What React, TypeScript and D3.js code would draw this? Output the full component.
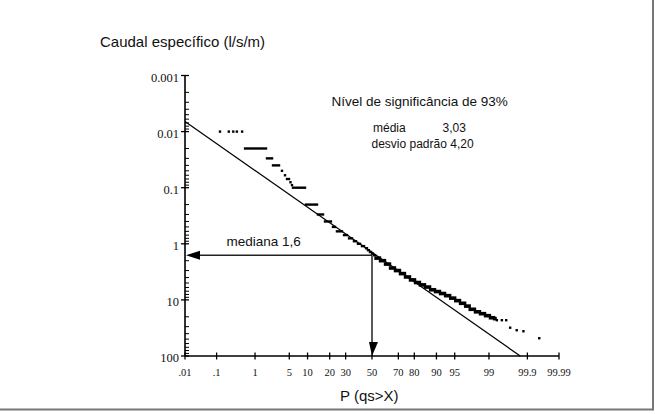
import * as d3 from "d3";

// probability ticks (%), and y decades
const probTicks = [0.01, 0.1, 1, 5, 10, 20, 30, 50, 70, 80, 90, 95, 99, 99.9, 99.99];
const probLabels = [".01", ".1", "1", "5", "10", "20", "30", "50", "70", "80", "90", "95", "99", "99.9", "99.99"];
const yDecades = [0.001, 0.01, 0.1, 1, 10, 100];
const yLabels = ["0.001", "0.01", "0.1", "1", "10", "100"];

// observed values: [caudal, P from (%), P to (%)] (tied values form runs)
const runs: [number, number, number][] = [
  [0.01, 0.125, 0.125], [0.01, 0.22, 0.22], [0.01, 0.29, 0.29], [0.01, 0.36, 0.36], [0.01, 0.49, 0.49],
  [0.02, 0.58, 1.75], [0.03, 1.84, 2.34], [0.04, 2.45, 3.22], [0.05, 3.67, 3.67], [0.06, 4.18, 4.18],
  [0.07, 4.55, 4.94], [0.08, 5.25, 5.25], [0.09, 5.58, 5.58],
  [0.1, 5.81, 9.13], [0.2, 9.46, 13.7], [0.3, 14.1, 16.5], [0.4, 17.5, 20.7], [0.5, 21.9, 23.1],
  [0.6, 24.3, 27.5], [0.7, 28.9, 30.9], [0.8, 32.4, 34.5], [0.9, 36.0, 37.5], [1.0, 39.0, 40.6],
  [1.1, 42.1, 43.7], [1.2, 45.3, 46.0], [1.3, 46.8, 47.5], [1.4, 48.4, 49.2], [1.5, 50.0, 50.8],
  [1.6, 51.6, 52.4], [1.8, 52.8, 56.3], [2.0, 56.3, 60.2], [2.3, 60.2, 64.0], [2.7, 64.0, 67.6],
  [3.0, 67.6, 71.1], [3.4, 71.1, 74.4], [3.9, 74.4, 77.5], [4.4, 77.5, 80.4], [4.9, 80.4, 83.0],
  [5.4, 83.0, 85.4], [5.9, 85.4, 87.6], [6.6, 87.6, 89.5], [7.1, 89.5, 91.2], [7.7, 91.2, 92.7],
  [8.4, 92.7, 94.0], [9.3, 94.0, 95.1], [10.3, 95.1, 96.0], [11.5, 96.0, 96.8], [12.9, 96.8, 97.4],
  [14.7, 97.4, 97.97], [16.3, 97.97, 98.41], [17.6, 98.41, 98.77], [19.1, 98.77, 99.05],
  [20.8, 99.05, 99.24], [21.6, 99.24, 99.3],
  [23, 99.35, 99.35], [23, 99.51, 99.51], [23, 99.62, 99.62],
  [31.3, 99.7, 99.7], [34.7, 99.8, 99.8], [36.2, 99.87, 99.87], [48.2, 99.956, 99.956],
];

// fitted distribution (straight on probability paper)
const fitLine: [number, number][] = [[0.01, 0.0066], [99.84, 100]];

const median = 1.6;
const medianP = 50;

// inverse normal cdf (Acklam)
function probit(p: number): number {
  const a = [-39.69683028665376, 220.9460984245205, -275.9285104469687, 138.357751867269, -30.66479806614716, 2.506628277459239];
  const b = [-54.47609879822406, 161.5858368580409, -155.6989798598866, 66.80131188771972, -13.28068155288572];
  const c = [-0.007784894002430293, -0.3223964580411365, -2.400758277161838, -2.549732539343734, 4.374664141464968, 2.938163982698783];
  const d = [0.007784695709041462, 0.3224671290700398, 2.445134137142996, 3.754408145901901];
  const plow = 0.02425;
  if (p < plow) {
    const q = Math.sqrt(-2 * Math.log(p));
    return (((((c[0] * q + c[1]) * q + c[2]) * q + c[3]) * q + c[4]) * q + c[5]) / ((((d[0] * q + d[1]) * q + d[2]) * q + d[3]) * q + 1);
  }
  if (p > 1 - plow) {
    const q = Math.sqrt(-2 * Math.log(1 - p));
    return -(((((c[0] * q + c[1]) * q + c[2]) * q + c[3]) * q + c[4]) * q + c[5]) / ((((d[0] * q + d[1]) * q + d[2]) * q + d[3]) * q + 1);
  }
  const q = p - 0.5;
  const r = q * q;
  return ((((((a[0] * r + a[1]) * r + a[2]) * r + a[3]) * r + a[4]) * r + a[5]) * q) / (((((b[0] * r + b[1]) * r + b[2]) * r + b[3]) * r + b[4]) * r + 1);
}

const W = 655;
const H = 414;
const left = 185;
const right = 559;
const top = 75.5;
const bottom = 356;

const zScale = d3.scaleLinear().domain([probit(0.0001), probit(0.9999)]).range([left, right]);
const x = (p: number) => zScale(probit(p / 100));
const y = d3.scaleLog().domain([0.001, 100]).range([top, bottom]);

const sans = "'Liberation Sans', Arial, Helvetica, sans-serif";
const serif = "'Liberation Serif', 'Times New Roman', Times, serif";

export default function App() {
  const minor: number[] = [];
  yDecades.slice(0, -1).forEach(dv => {
    for (let k = 2; k <= 9; k++) minor.push(dv * k);
  });

  const fitPath = d3.line<[number, number]>().x(d => x(d[0])).y(d => y(d[1]))(fitLine) || "";
  const my = y(median);
  const mx = x(medianP);

  return (
    <svg width={W} height={H} style={{ position: "absolute", left: 0, top: 0, background: "#fff" }}>
      {/* frame */}
      <line x1={0} x2={653} y1={409.5} y2={409.5} stroke="#777" strokeWidth={2} />
      <line x1={653} x2={653} y1={0} y2={410.5} stroke="#777" strokeWidth={2} />

      <text x={100} y={47} fontFamily={sans} fontSize={15} fill="#111">Caudal específico (l/s/m)</text>
      <text x={340} y={401} fontFamily={sans} fontSize={15} fill="#111">P (qs&gt;X)</text>

      {/* y axis */}
      <line x1={left} x2={left} y1={top} y2={bottom} stroke="#000" strokeWidth={1.6} />
      {minor.map((v, i) => (
        <line key={"m" + i} x1={left} x2={left + 4} y1={y(v)} y2={y(v)} stroke="#000" strokeWidth={1} />
      ))}
      {yDecades.map((v, i) => (
        <g key={"y" + i}>
          <line x1={left - 4} x2={left + 4} y1={y(v)} y2={y(v)} stroke="#000" strokeWidth={1.3} />
          <text x={left - 6} y={y(v) + 2} dy="0.35em" textAnchor="end" fontFamily={serif} fontSize={12.5} fill="#111">
            {yLabels[i]}
          </text>
        </g>
      ))}

      {/* x axis */}
      <line x1={left} x2={right} y1={bottom} y2={bottom} stroke="#000" strokeWidth={1.6} />
      {probTicks.map((p, i) => (
        <g key={"x" + i}>
          <line x1={x(p)} x2={x(p)} y1={bottom - 3.5} y2={bottom + 3.5} stroke="#000" strokeWidth={1.3} />
          <text x={x(p)} y={375.5} textAnchor="middle" fontFamily={serif} fontSize={10.5} fill="#111">
            {probLabels[i]}
          </text>
        </g>
      ))}

      {/* observations */}
      {runs.map(([q, p0, p1], i) => {
        const x0 = x(p0) - 1.2;
        const x1 = x(p1) + 1.2;
        const h = q >= 1.8 && q < 23 ? 3.6 : 2.4;
        return <rect key={"r" + i} x={x0} y={y(q) - h / 2} width={x1 - x0} height={h} fill="#000" />;
      })}

      {/* fitted line */}
      <path d={fitPath} fill="none" stroke="#000" strokeWidth={1.2} />

      {/* median arrows */}
      <line x1={mx} x2={left + 12} y1={my} y2={my} stroke="#222" strokeWidth={1.5} />
      <path d={`M${left + 1},${my} L${left + 15},${my - 4.5} L${left + 15},${my + 4.5} Z`} fill="#000" />
      <line x1={mx} x2={mx} y1={my} y2={bottom - 12} stroke="#222" strokeWidth={1.5} />
      <path d={`M${mx},${bottom} L${mx - 3},${bottom - 14} L${mx + 6},${bottom - 14} Z`} fill="#000" />

      <text x={226.5} y={245.5} fontFamily={sans} fontSize={13.5} fill="#111">mediana 1,6</text>

      <text x={331.5} y={105.5} fontFamily={sans} fontSize={13.5} fill="#111">Nível de significância de 93%</text>
      <text x={373} y={131.5} fontFamily={sans} fontSize={12} fill="#111">média</text>
      <text x={442.5} y={131.5} fontFamily={sans} fontSize={12} fill="#111">3,03</text>
      <text x={371.5} y={147.5} fontFamily={sans} fontSize={12} fill="#111">desvio padrão 4,20</text>
    </svg>
  );
}
